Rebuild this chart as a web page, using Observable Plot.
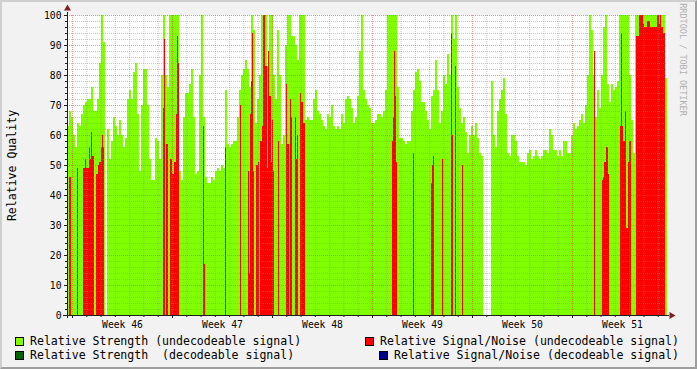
<!DOCTYPE html>
<html>
<head>
<meta charset="utf-8">
<script src="https://cdn.jsdelivr.net/npm/d3@7"></script>
<script src="https://cdn.jsdelivr.net/npm/@observablehq/plot@0.6"></script>
<style>
html, body { margin: 0; padding: 0; background: #F2F2F2; }
#wrap { position: relative; width: 697px; height: 369px; background: #F2F2F2; overflow: hidden; font-family: "DejaVu Sans Mono", monospace; }
#chart svg { display: block; }
#shade { position: absolute; left: 0; top: 0; width: 697px; height: 369px; box-sizing: border-box;
  border-top: 2px solid #CFCFCF; border-left: 2px solid #CFCFCF; border-right: 2px solid #9E9E9E; border-bottom: 2px solid #9E9E9E; pointer-events: none; }
.lg { position: absolute; font-family: "DejaVu Sans Mono", monospace; font-size: 11.55px; line-height: 14px; white-space: pre; color: #000; }
.bx { position: absolute; width: 7px; height: 7px; border: 1px solid #000; }
</style>
</head>
<body>
<div id="wrap">
  <div id="chart"></div>
  <div id="legend"></div>
  <div id="shade"></div>
</div>
<script>
// ---- time base: one RRD row = 1.68 h, graph spans 600 rows ----
const rowHours = 1.68;
const startUTC = [2009, 10, 8, 15, 36];   // Nov 8 2009 15:36 UTC
const rowCount = 600;

// Relative Strength (undecodeable signal): one value per 2 rows
const strengthUndecodeable = [
  63,68,66,60,56,64,63,67,70,71,
  72,72,76,68,68,72,84,100,91,null,
  62,52,58,66,63,60,65,60,56,59,
  72,75,72,81,84,67,48,70,82,82,
  70,52,45,45,59,58,52,80,100,80,
  76,100,100,100,100,100,48,45,66,74,
  74,77,82,66,47,48,80,100,66,46,
  44,44,46,45,48,49,48,50,49,75,
  57,56,57,58,58,66,75,80,82,85,
  82,76,100,95,64,72,80,100,100,100,
  83,100,100,80,72,95,80,57,60,90,
  100,100,93,93,90,85,100,100,100,65,
  66,65,65,72,75,68,67,65,63,62,
  67,66,70,63,62,63,62,67,64,72,
  73,72,69,64,66,73,88,100,75,72,
  70,69,64,64,65,67,67,66,68,75,
  100,100,100,100,100,76,59,59,58,57,
  58,58,68,75,81,82,78,71,71,68,
  65,62,73,75,85,75,64,68,80,77,
  87,80,100,92,100,76,69,64,66,61,
  54,60,63,60,64,59,54,53,null,null,
  null,null,78,60,56,68,72,75,79,67,
  54,53,60,60,58,53,51,51,51,50,
  54,55,52,53,55,53,52,53,55,55,
  54,62,60,55,55,53,55,53,58,58,
  54,54,60,64,62,63,65,67,64,70,
  80,100,95,80,66,75,69,80,96,100,
  77,71,77,75,76,78,100,100,100,100,
  100,80,65,54,100,100,100,100,100,100,
  100,100,100,100,100,100,100,100,100,79
];

// Relative Signal/Noise (undecodeable signal): runs of consecutive rows
const noiseStarts = [2,10,16,29,96,99,103,136,158,173,181,189,193,211,219,223,228,233,325,346,364,375,384,388,395,527,535,553,569];
const noiseValues = [
  [46,46],
  [49],
  [49,49,52,49,49,49,56,52,61,53,53],
  [47,47,50,51,51,56,60,56],
  [69,92],
  [57,57],
  [52,52,47,47,51,51,67,93,84],
  [63,17],
  [56],
  [70],
  [48,14,67,78,94,48],
  [50,50,51],
  [58,58,63,100,100,83,83,49,88,73,73,51,65,48],
  [58],
  [77,57,57],
  [72,66],
  [66,52,60],
  [74,71,71,64,64],
  [58,66,88,73,51],
  [54],
  [44,50,53],
  [52],
  [94,60],
  [83],
  [50],
  [88],
  [45,46,51,51,56,56,47],
  [63,94,63,58,58,68,29,29,51,58,58],
  [93,93,93,100,100,100,100,97,96,96,96,98,98,98,96,96,96,96,96,96,96,100,100,97,100,96,96,94,94]
];

// Decodeable series: no samples in this period
const strengthDecodeable = [];
const noiseDecodeable = [];

const yTickValues = [0,10,20,30,40,50,60,70,80,90,100];

const legendItems = [
  {label: "Relative Strength (undecodeable signal)", color: "#7FFF00"},
  {label: "Relative Signal/Noise (undecodeable signal)", color: "#FF0000"},
  {label: "Relative Strength  (decodeable signal)", color: "#006400"},
  {label: "Relative Signal/Noise (decodeable signal)", color: "#00008B"}
];

// ---- derived ----
const rowMs = rowHours * 3600 * 1000;
const start = Date.UTC(...startUTC);
const end = start + rowCount * rowMs;
const T = r => new Date(start + r * rowMs);

const greenData = strengthUndecodeable
  .map((v, i) => ({x1: T(i * 2), x2: T(i * 2 + 2), v}))
  .filter(d => d.v != null);
const redData = [];
noiseStarts.forEach((s, k) => noiseValues[k].forEach((v, j) => redData.push({x1: T(s + j), x2: T(s + j + 1), v})));

const days = d3.utcDay.range(new Date(start), new Date(end));
const mondays = d3.utcMonday.range(new Date(start), new Date(end));
const minorDays = days.filter(d => d.getUTCDay() !== 1);
const midweeks = mondays.map(m => new Date(+m + 3.5 * 86400000)).filter(d => +d < end);
const yMinor = d3.range(2, 100, 2).filter(v => v % 10 !== 0);
const yMajor = yTickValues.filter(v => v > 0);
const isoWeek = d3.utcFormat("%V");

const gridMinor = {stroke: "#8F8F8F", strokeOpacity: 0.5, strokeDasharray: "1,1"};
const gridMajor = {stroke: "#DE5050", strokeOpacity: 0.6, strokeDasharray: "1,1"};

const chart = Plot.plot({
  width: 697,
  height: 334,
  marginLeft: 67,
  marginRight: 30,
  marginTop: 15,
  marginBottom: 19,
  style: {background: "transparent", fontFamily: "DejaVu Sans Mono", fontSize: "9.7px", color: "#000", overflow: "visible"},
  x: {type: "utc", domain: [new Date(start), new Date(end)]},
  y: {domain: [0, 100]},
  marks: [
    Plot.frame({fill: "white", stroke: "none"}),
    Plot.rect(greenData, {x1: "x1", x2: "x2", y1: 0, y2: "v", fill: "#7FFF00", shapeRendering: "crispEdges"}),
    Plot.rect(strengthDecodeable, {x1: "x1", x2: "x2", y1: 0, y2: "v", fill: "#006400"}),
    Plot.rect(redData, {x1: "x1", x2: "x2", y1: 0, y2: "v", fill: "#FF0000", shapeRendering: "crispEdges"}),
    Plot.rect(noiseDecodeable, {x1: "x1", x2: "x2", y1: 0, y2: "v", fill: "#00008B"}),
    Plot.ruleY(yMinor, gridMinor),
    Plot.ruleX(minorDays, gridMinor),
    Plot.ruleY(yMajor, gridMajor),
    Plot.ruleX(mondays, gridMajor),
    Plot.axisY(yMinor, {tickSize: 2, tickFormat: () => "", label: null, stroke: "#1F1F1F"}),
    Plot.axisY(yTickValues, {tickSize: 3, tickPadding: 3, tickFormat: d => String(d), label: null, fontSize: 9.7, stroke: "#1F1F1F"}),
    Plot.axisX(minorDays, {tickSize: 2, tickFormat: () => "", label: null, stroke: "#1F1F1F"}),
    Plot.axisX(mondays, {tickSize: 3, tickFormat: () => "", label: null, stroke: "#1F1F1F"}),
    Plot.axisX(midweeks, {tickSize: 0, tickPadding: 6, tickFormat: d => "Week " + (+isoWeek(d)), label: null, fontSize: 9.7}),
    Plot.ruleY([0], {stroke: "#1F1F1F", insetLeft: -4, insetRight: -2}),
    Plot.ruleX([new Date(start)], {stroke: "#1F1F1F", insetTop: -3, insetBottom: -3}),
    Plot.dot([new Date(start)], {x: d => d, y: () => 100, dy: -7, symbol: "triangle", r: 2.6, fill: "#801F1F", stroke: "none"}),
    Plot.dot([new Date(end)], {x: d => d, y: () => 0, dx: 4, symbol: "triangle", r: 2.6, rotate: 90, fill: "#801F1F", stroke: "none"}),
    Plot.text(["Relative Quality"], {frameAnchor: "left", textAnchor: "middle", dx: -55, rotate: -90, fontSize: 11.55, fill: "#000"}),
    Plot.text(["RRDTOOL / TOBI OETIKER"], {frameAnchor: "top-right", textAnchor: "middle", dx: 19, dy: 44, rotate: 90, fontSize: 8.5, fill: "#B0B0B0"})
  ]
});
document.getElementById("chart").appendChild(chart);

// ---- legend (HTML below the SVG) ----
const legend = document.getElementById("legend");
const slots = [
  {bx: 15, tx: 30, top: 334},
  {bx: 365, tx: 380, top: 334},
  {bx: 15, tx: 30, top: 348},
  {bx: 379, tx: 394, top: 348}
];
legendItems.forEach((it, i) => {
  const s = slots[i];
  const b = document.createElement("div");
  b.className = "bx";
  b.style.left = s.bx + "px";
  b.style.top = (s.top + 3) + "px";
  b.style.background = it.color;
  legend.appendChild(b);
  const t = document.createElement("div");
  t.className = "lg";
  t.style.left = s.tx + "px";
  t.style.top = s.top + "px";
  t.textContent = it.label;
  legend.appendChild(t);
});
</script>
</body>
</html>
